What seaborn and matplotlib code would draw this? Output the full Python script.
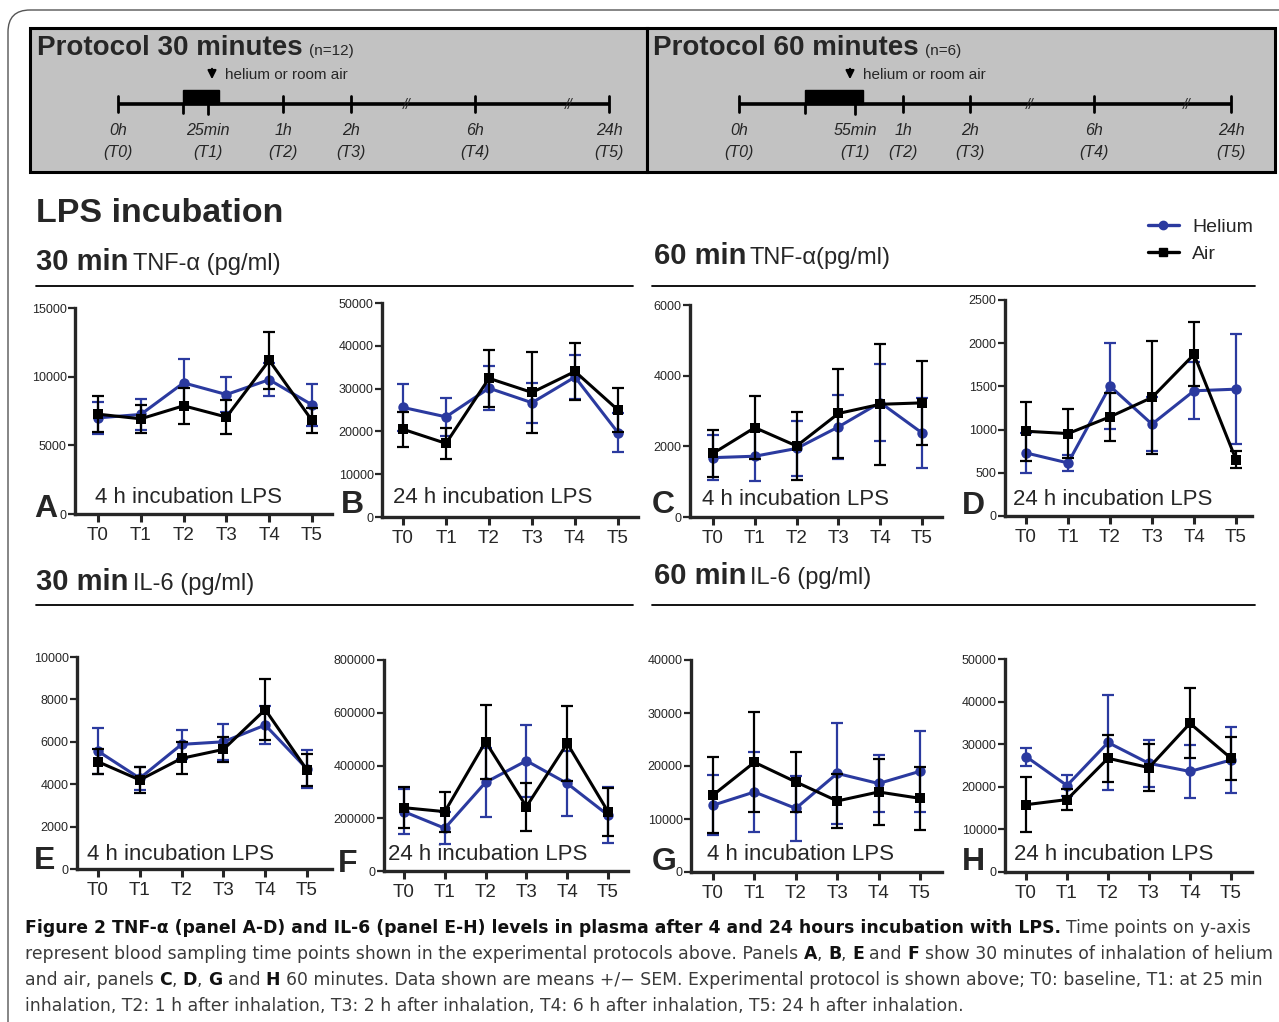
import numpy as np
import pandas as pd
import matplotlib
matplotlib.use("Agg")
import matplotlib.pyplot as plt
from matplotlib.patches import Rectangle, FancyBboxPatch
from matplotlib.lines import Line2D
from matplotlib import font_manager
import seaborn as sns

# ---------------- data ----------------
timepoints = ["T0", "T1", "T2", "T3", "T4", "T5"]
groups = ["Helium", "Air"]

# Panel A: TNF-a, 30 min, 4 h incubation
A_helium = [7000, 7250, 9550, 8700, 9780, 7950]
A_helium_sem = [1150, 1100, 1770, 1260, 1200, 1530]
A_air = [7270, 6930, 7880, 7060, 11190, 6810]
A_air_sem = [1300, 1000, 1330, 1250, 2070, 900]
# Panel B: TNF-a, 30 min, 24 h incubation
B_helium = [25600, 23400, 30100, 26700, 32700, 19700]
B_helium_sem = [5500, 4500, 5200, 4700, 5200, 4500]
B_air = [20500, 17200, 32400, 29100, 34000, 25000]
B_air_sem = [4100, 3700, 6600, 9500, 6600, 5100]
# Panel C: TNF-a, 60 min, 4 h incubation
C_helium = [1680, 1720, 1940, 2550, 3240, 2380]
C_helium_sem = [630, 700, 780, 900, 1100, 1000]
C_air = [1800, 2530, 2010, 2930, 3190, 3230]
C_air_sem = [660, 900, 950, 1260, 1720, 1190]
# Panel D: TNF-a, 60 min, 24 h incubation
D_helium = [730, 614, 1503, 1063, 1449, 1468]
D_helium_sem = [230, 90, 500, 310, 330, 640]
D_air = [981, 954, 1148, 1372, 1870, 653]
D_air_sem = [340, 280, 280, 650, 370, 95]
# Panel E: IL-6, 30 min, 4 h incubation
E_helium = [5560, 4280, 5880, 6000, 6790, 4720]
E_helium_sem = [1100, 550, 700, 850, 900, 900]
E_air = [5060, 4200, 5220, 5640, 7520, 4670]
E_air_sem = [600, 600, 750, 600, 1450, 750]
# Panel F: IL-6, 30 min, 24 h incubation
F_helium = [225000, 162000, 336000, 418000, 332000, 212000]
F_helium_sem = [85000, 60000, 132000, 136000, 122000, 105000]
F_air = [240000, 225000, 490000, 244000, 484000, 225000]
F_air_sem = [77000, 76000, 140000, 91000, 142000, 91000]
# Panel G: IL-6, 60 min, 4 h incubation
G_helium = [12600, 15100, 12000, 18600, 16700, 19000]
G_helium_sem = [5700, 7500, 6200, 9600, 5300, 7600]
G_air = [14500, 20700, 17000, 13400, 15100, 13900]
G_air_sem = [7200, 9400, 5600, 5100, 6300, 5900]
# Panel H: IL-6, 60 min, 24 h incubation
H_helium = [27100, 20300, 30400, 25500, 23600, 26300]
H_helium_sem = [2100, 2500, 11200, 5500, 6300, 7700]
H_air = [15800, 17000, 26700, 24500, 34900, 26700]
H_air_sem = [6500, 2500, 5500, 5500, 8200, 5100]

panel_letters = ["A", "B", "C", "D", "E", "F", "G", "H"]
panel_subtitles = ["4 h incubation LPS", "24 h incubation LPS"] * 4
panel_ymax = [15000, 50000, 6000, 2500, 10000, 800000, 40000, 50000]
panel_ystep = [5000, 10000, 2000, 500, 2000, 200000, 10000, 10000]

protocol_titles = ["Protocol 30 minutes", "Protocol 60 minutes"]
protocol_n = ["(n=12)", "(n=6)"]
protocol_time_labels = [["0h", "25min", "1h", "2h", "6h", "24h"],
                        ["0h", "55min", "1h", "2h", "6h", "24h"]]
protocol_point_labels = ["(T0)", "(T1)", "(T2)", "(T3)", "(T4)", "(T5)"]
section_titles = [("30 min", "TNF-\u03b1 (pg/ml)"), ("60 min", "TNF-\u03b1(pg/ml)"),
                  ("30 min", "IL-6 (pg/ml)"), ("60 min", "IL-6 (pg/ml)")]

HELIUM_C = "#2b3a9f"
AIR_C = "#000000"

# ---------------- style ----------------
sns.set_style("ticks")
plt.rcParams["font.family"] = ["Liberation Sans", "DejaVu Sans"]
plt.rcParams["axes.linewidth"] = 2.2

W, H = 1279, 1022
fig = plt.figure(figsize=(W / 100, H / 100), dpi=100)
fig.patch.set_facecolor("white")

ov = fig.add_axes([0, 0, 1, 1], zorder=0)
ov.set_xlim(0, W)
ov.set_ylim(H, 0)
ov.axis("off")

# outer rounded border
ov.add_patch(FancyBboxPatch((8, 10), 1320, 1100, boxstyle="round,pad=0,rounding_size=22",
                            fc="none", ec="#555555", lw=1.0))

# ---------------- protocol boxes ----------------
prot_boxes = [(30, 28, 647, 172), (647, 28, 1275, 172)]
prot_line = [(118, 609), (739, 1231)]
prot_ticks = [[118, 208, 283, 351, 475, 609], [739, 855, 903, 970, 1094, 1231]]
prot_block = [(183, 219), (805, 863)]
prot_breaks = [[407, 569], [1030, 1187]]
prot_arrow_x = [212, 850]
title_x = [37, 653]
n_x = [309, 925]
ly = 104
for i in range(2):
    x0, y0, x1, y1 = prot_boxes[i]
    ov.add_patch(Rectangle((x0, y0), x1 - x0, y1 - y0, fc="#c2c2c2", ec="black", lw=2.2, zorder=1))
    ov.text(title_x[i], 55, protocol_titles[i], fontsize=20, fontweight="bold", va="baseline", zorder=3)
    ov.text(n_x[i], 55, protocol_n[i], fontsize=11, va="baseline", zorder=3)
    ov.plot(prot_line[i], [ly, ly], color="black", lw=2.6, zorder=2, solid_capstyle="butt")
    bx0, bx1 = prot_block[i]
    ov.add_patch(Rectangle((bx0, 90), bx1 - bx0, ly - 90, fc="black", ec="black", zorder=2))
    ov.plot([bx0, bx0], [ly, 113], color="black", lw=2, zorder=2)
    for j, tx in enumerate(prot_ticks[i]):
        if j == 1:
            ov.plot([tx, tx], [ly, 114], color="black", lw=2, zorder=2)
        else:
            ov.plot([tx, tx], [ly - 8, ly + 8], color="black", lw=2, zorder=2)
        ov.text(tx, 135, protocol_time_labels[i][j], fontsize=11.5, style="italic",
                ha="center", va="baseline", zorder=3)
        ov.text(tx, 157, protocol_point_labels[j], fontsize=11.5, style="italic",
                ha="center", va="baseline", zorder=3)
    for bxk in prot_breaks[i]:
        ov.text(bxk, ly + 1, "//", fontsize=10, style="italic", ha="center", va="center", zorder=3)
    ax_ = prot_arrow_x[i]
    ov.annotate("", xy=(ax_, 82), xytext=(ax_, 66),
                arrowprops=dict(arrowstyle="-|>,head_width=0.25,head_length=0.5", color="black", lw=1.5),
                zorder=3)
    ov.text(ax_ + 13, 79, "helium or room air", fontsize=11, va="baseline", zorder=3)

# ---------------- headers ----------------
ov.text(36, 222, "LPS incubation", fontsize=24.5, fontweight="bold", va="baseline")
sec_pos = [(36, 133, 270, 36, 633, 286), (654, 750, 264, 652, 1255, 286),
           (36, 133, 590, 36, 633, 605), (654, 750, 584, 652, 1255, 605)]
for (bold_t, norm_t), (xb, xn, yb, l0, l1, yl) in zip(section_titles, sec_pos):
    ov.text(xb, yb, bold_t, fontsize=21, fontweight="bold", va="baseline")
    ov.text(xn, yb, norm_t, fontsize=17, va="baseline")
    ov.plot([l0, l1], [yl, yl], color="black", lw=1.3)

# ---------------- panels ----------------
helium_data = [A_helium, B_helium, C_helium, D_helium, E_helium, F_helium, G_helium, H_helium]
helium_sem = [A_helium_sem, B_helium_sem, C_helium_sem, D_helium_sem,
              E_helium_sem, F_helium_sem, G_helium_sem, H_helium_sem]
air_data = [A_air, B_air, C_air, D_air, E_air, F_air, G_air, H_air]
air_sem = [A_air_sem, B_air_sem, C_air_sem, D_air_sem, E_air_sem, F_air_sem, G_air_sem, H_air_sem]

# axes boxes in pixels: (left spine x, top y, right x, bottom y), and x at T0/T5
boxes = [(75, 308, 332, 514, 98, 312), (382, 303, 638, 517, 403, 618),
         (690, 305, 942, 517, 713, 922), (1005, 300, 1252, 516, 1026, 1236),
         (77, 657, 332, 869, 98, 307), (384, 660, 628, 871, 404, 608),
         (691, 660, 942, 872, 713, 920), (1005, 659, 1252, 872, 1026, 1231)]
letter_pos = [(34, 517), (341, 513), (652, 513), (962, 514),
              (34, 869), (338, 872), (652, 870), (962, 870)]
sub_pos = [(95, 503), (393, 503), (702, 505), (1013, 505),
           (87, 860), (388, 860), (707, 860), (1014, 860)]

x_idx = np.arange(len(timepoints))
for k in range(8):
    xl, yt, xr, yb, xt0, xt5 = boxes[k]
    ax = fig.add_axes([xl / W, 1 - yb / H, (xr - xl) / W, (yb - yt) / H], zorder=2)
    ax.patch.set_alpha(0)
    unit = (xt5 - xt0) / 5
    ax.set_xlim(-(xt0 - xl) / unit, 5 + (xr - xt5) / unit)
    ax.set_ylim(0, panel_ymax[k])

    df = pd.DataFrame({
        "t": np.concatenate([x_idx, x_idx]),
        "value": np.concatenate([helium_data[k], air_data[k]]),
        "group": ["Helium"] * 6 + ["Air"] * 6,
    })
    for g, vals, sems, col in [("Helium", helium_data[k], helium_sem[k], HELIUM_C),
                               ("Air", air_data[k], air_sem[k], AIR_C)]:
        ax.errorbar(x_idx, vals, yerr=sems, fmt="none", ecolor=col, elinewidth=1.6,
                    capsize=4, capthick=1.6, zorder=3 if g == "Helium" else 5)
    sns.lineplot(data=df, x="t", y="value", hue="group", style="group",
                 hue_order=groups, style_order=groups,
                 palette={"Helium": HELIUM_C, "Air": AIR_C},
                 markers={"Helium": "o", "Air": "s"}, dashes=False,
                 markersize=7.5, markeredgewidth=0, linewidth=2.2,
                 errorbar=None, legend=False, ax=ax, zorder=4)
    for ln in ax.get_lines():
        if ln.get_color() in (AIR_C, "k", "#000000"):
            ln.set_zorder(6)

    ax.set_xticks(x_idx)
    ax.set_xticklabels(timepoints, fontsize=13.5)
    yt_vals = np.arange(0, panel_ymax[k] + 1, panel_ystep[k])
    ax.set_yticks(yt_vals)
    ax.set_yticklabels([f"{int(v)}" for v in yt_vals], fontsize=9)
    ax.tick_params(axis="x", length=6, width=2.2, pad=3, direction="out")
    ax.tick_params(axis="y", length=5, width=1.6, pad=1, direction="out")
    ax.set_xlabel("")
    ax.set_ylabel("")
    sns.despine(ax=ax)
    for s in ["left", "bottom"]:
        ax.spines[s].set_linewidth(2.4)

    lx, lyy = letter_pos[k]
    ov.text(lx, lyy, panel_letters[k], fontsize=23, fontweight="bold", va="baseline", zorder=5)
    sx, sy = sub_pos[k]
    ov.text(sx, sy, panel_subtitles[k], fontsize=16, va="baseline", zorder=5)

# ---------------- legend ----------------
handles = [Line2D([0], [0], color=HELIUM_C, marker="o", lw=2.4, markersize=6),
           Line2D([0], [0], color=AIR_C, marker="s", lw=2.4, markersize=6)]
fig.legend(handles, groups, loc="upper left", bbox_to_anchor=(1136 / W, 1 - 207 / H),
           frameon=False, fontsize=14, handlelength=1.6, handletextpad=0.7, labelspacing=0.45,
           borderpad=0.1)

# ---------------- caption ----------------
names = {f.name for f in font_manager.fontManager.ttflist}
cap_font = "Liberation Sans Narrow" if "Liberation Sans Narrow" in names else "DejaVu Sans"
renderer = fig.canvas.get_renderer()

caption_lines = [
    [("Figure 2 TNF-\u03b1 (panel A-D) and IL-6 (panel E-H) levels in plasma after 4 and 24 hours incubation with LPS.", True),
     (" Time points on y-axis", False)],
    [("represent blood sampling time points shown in the experimental protocols above. Panels ", False),
     ("A", True), (", ", False), ("B", True), (", ", False), ("E", True), (" and ", False), ("F", True),
     (" show 30 minutes of inhalation of helium", False)],
    [("and air, panels ", False), ("C", True), (", ", False), ("D", True), (", ", False), ("G", True),
     (" and ", False), ("H", True),
     (" 60 minutes. Data shown are means +/\u2212 SEM. Experimental protocol is shown above; T0: baseline, T1: at 25 min", False)],
    [("inhalation, T2: 1 h after inhalation, T3: 2 h after inhalation, T4: 6 h after inhalation, T5: 24 h after inhalation.", False)],
]
cap_base = [933, 959, 985, 1011]


def seg_width(txt, bold, size):
    t = ov.text(0, 0, txt, fontsize=size, fontweight="bold" if bold else "normal", family=cap_font)
    w = t.get_window_extent(renderer=renderer).width
    t.remove()
    return w


def draw_line(segs, yb, size, draw=True):
    sp = seg_width("a a", False, size) - seg_width("aa", False, size)
    x = 25
    for txt, b in segs:
        core = txt.strip(" ")
        lead = len(txt) - len(txt.lstrip(" "))
        trail = len(txt) - len(txt.rstrip(" "))
        x += lead * sp
        if core:
            if draw:
                t = ov.text(x, yb, core, fontsize=size, fontweight="bold" if b else "normal",
                            family=cap_font, va="baseline", color="#111111" if b else "#3a3a3a")
                x += t.get_window_extent(renderer=renderer).width
            else:
                x += seg_width(core, b, size)
        x += trail * sp
    return x


# fit the longest caption lines inside the figure
test = 12.0
widest = max(draw_line(s, 0, test, draw=False) - 25 for s in caption_lines)
cap_size = test * (1238 / widest)
for segs, yb in zip(caption_lines, cap_base):
    draw_line(segs, yb, cap_size)

fig.savefig("out.png", dpi=100, facecolor="white")
